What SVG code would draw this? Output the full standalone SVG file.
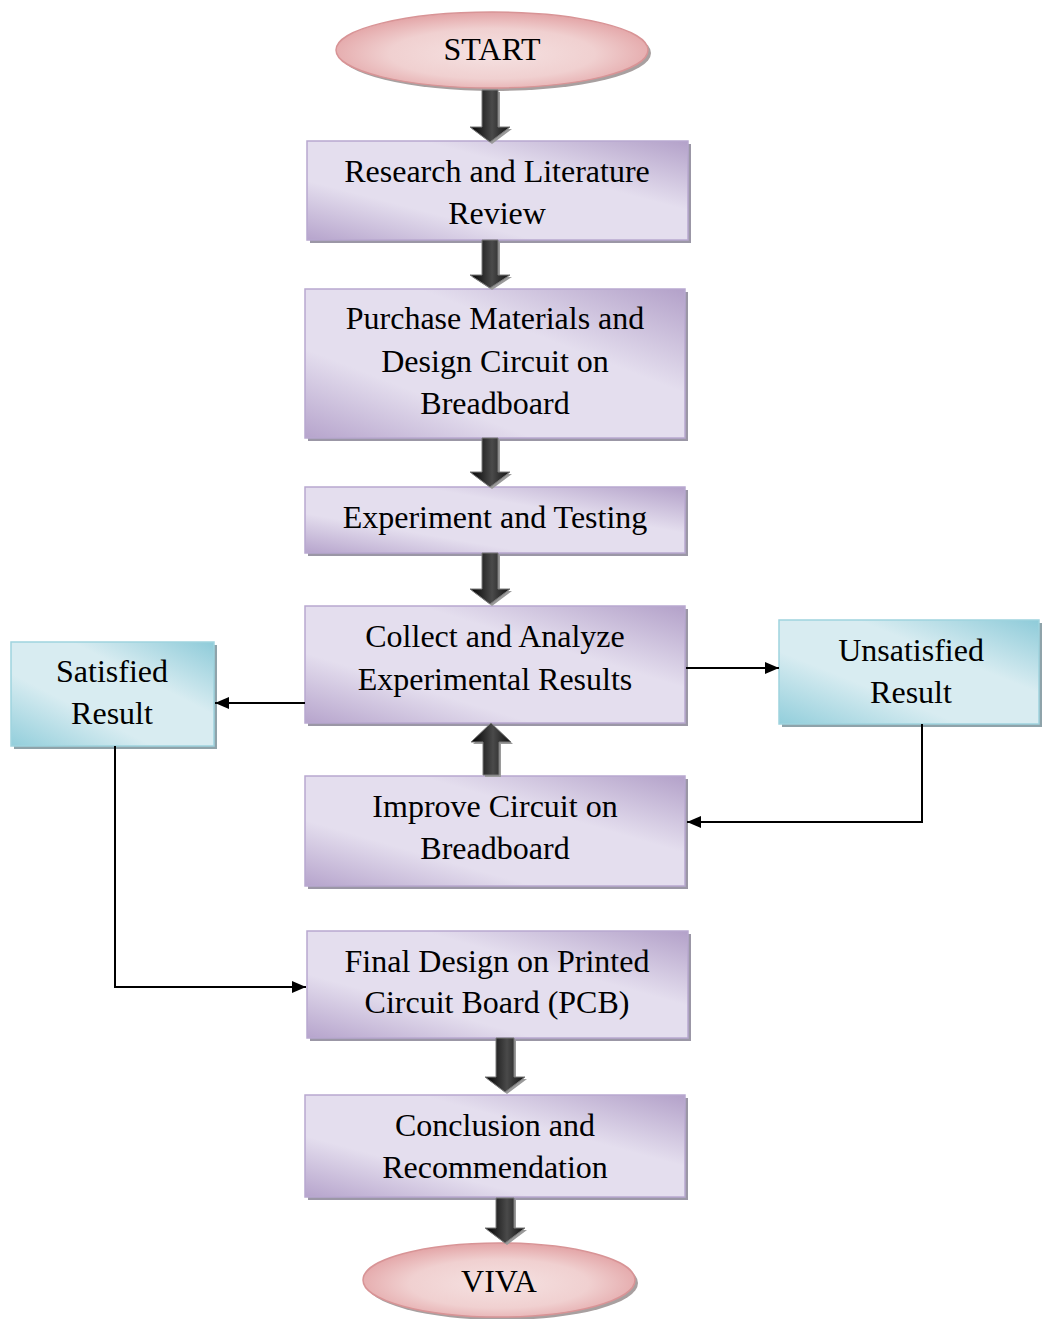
<svg xmlns="http://www.w3.org/2000/svg" width="1042" height="1319" viewBox="0 0 1042 1319">
<defs>
<linearGradient id="gPurple" x1="0" y1="1" x2="1" y2="0">
<stop offset="0" stop-color="#b6a4cc"/>
<stop offset="0.3" stop-color="#e4deee"/>
<stop offset="0.65" stop-color="#e4deee"/>
<stop offset="1" stop-color="#b3a1c9"/>
</linearGradient>
<linearGradient id="gBlue" x1="0" y1="1" x2="1" y2="0">
<stop offset="0" stop-color="#92cedb"/>
<stop offset="0.35" stop-color="#d8ecf1"/>
<stop offset="0.65" stop-color="#d8ecf1"/>
<stop offset="1" stop-color="#8ecbd9"/>
</linearGradient>
<radialGradient id="gPink" cx="0.5" cy="0.55" r="0.55">
<stop offset="0" stop-color="#f5e2e2"/>
<stop offset="0.6" stop-color="#f0d0d0"/>
<stop offset="1" stop-color="#e3a4a6"/>
</radialGradient>
<linearGradient id="gArrow" x1="0" y1="0" x2="1" y2="0">
<stop offset="0" stop-color="#000"/>
<stop offset="0.55" stop-color="#4a4a4a"/>
<stop offset="1" stop-color="#111"/>
</linearGradient>
<marker id="ah" viewBox="0 0 14 12" refX="14" refY="6" markerWidth="14" markerHeight="12" markerUnits="userSpaceOnUse" orient="auto">
<path d="M0,0 L14,6 L0,12 Z" fill="#000"/>
</marker>
<style>
.box{fill:url(#gPurple);stroke:#b8a8cf;stroke-width:1.5}
.bbox{fill:url(#gBlue);stroke:#9fd3de;stroke-width:1.5}
.sh{fill:#9b97a6}
.bsh{fill:#8fa3aa}
.ell{fill:url(#gPink);stroke:#d89496;stroke-width:1.5}
.esh{fill:#a8a0a0}
.t{font-family:"Liberation Serif","Times New Roman",serif;font-size:32px;fill:#000;text-anchor:middle}
.blk{fill:url(#gArrow);stroke:#7a7a7a;stroke-width:1}
.blksh{fill:#9a9a9a}
.ln{fill:none;stroke:#000;stroke-width:2;marker-end:url(#ah)}
</style>
</defs>
<rect width="1042" height="1319" fill="#fff"/>

<g id="start">
<ellipse class="esh" cx="495" cy="53" rx="156" ry="38"/>
<ellipse class="ell" cx="492" cy="50" rx="156" ry="38"/>
<text class="t" x="492" y="60">START</text>
</g>

<g id="research">
<rect class="sh" x="310" y="144" width="381" height="99"/>
<rect class="box" x="307" y="141" width="381" height="99"/>
<text class="t" x="497" y="182">Research and Literature</text>
<text class="t" x="497" y="224">Review</text>
</g>

<g id="purchase">
<rect class="sh" x="308" y="292" width="380" height="149"/>
<rect class="box" x="305" y="289" width="380" height="149"/>
<text class="t" x="495" y="329">Purchase Materials and</text>
<text class="t" x="495" y="372">Design Circuit on</text>
<text class="t" x="495" y="414">Breadboard</text>
</g>

<g id="experiment">
<rect class="sh" x="308" y="490" width="380" height="66"/>
<rect class="box" x="305" y="487" width="380" height="66"/>
<text class="t" x="495" y="528">Experiment and Testing</text>
</g>

<g id="collect">
<rect class="sh" x="308" y="609" width="380" height="117"/>
<rect class="box" x="305" y="606" width="380" height="117"/>
<text class="t" x="495" y="647">Collect and Analyze</text>
<text class="t" x="495" y="690">Experimental Results</text>
</g>

<g id="satisfied">
<rect class="bsh" x="14" y="645" width="203" height="104"/>
<rect class="bbox" x="11" y="642" width="203" height="104"/>
<text class="t" x="112" y="682">Satisfied</text>
<text class="t" x="112" y="724">Result</text>
</g>

<g id="unsatisfied">
<rect class="bsh" x="782" y="623" width="260" height="104"/>
<rect class="bbox" x="779" y="620" width="260" height="104"/>
<text class="t" x="911" y="661">Unsatisfied</text>
<text class="t" x="911" y="703">Result</text>
</g>

<g id="improve">
<rect class="sh" x="308" y="779" width="380" height="110"/>
<rect class="box" x="305" y="776" width="380" height="110"/>
<text class="t" x="495" y="817">Improve Circuit on</text>
<text class="t" x="495" y="859">Breadboard</text>
</g>

<g id="final">
<rect class="sh" x="310" y="934" width="381" height="107"/>
<rect class="box" x="307" y="931" width="381" height="107"/>
<text class="t" x="497" y="972">Final Design on Printed</text>
<text class="t" x="497" y="1013">Circuit Board (PCB)</text>
</g>

<g id="conclusion">
<rect class="sh" x="308" y="1098" width="380" height="102"/>
<rect class="box" x="305" y="1095" width="380" height="102"/>
<text class="t" x="495" y="1136">Conclusion and</text>
<text class="t" x="495" y="1178">Recommendation</text>
</g>

<g id="viva">
<ellipse class="esh" cx="502" cy="1283" rx="136" ry="37"/>
<ellipse class="ell" cx="499" cy="1280" rx="136" ry="37"/>
<text class="t" x="499" y="1292">VIVA</text>
</g>

<g id="connectors">
<path class="blksh" d="M484,92 H500 V129 H512 L492,144 L472,129 H484 Z"/>
<path class="blk" d="M482,90 H498 V127 H510 L490,142 L470,127 H482 Z"/>
<path class="blksh" d="M484,242 H500 V277 H512 L492,290 L472,277 H484 Z"/>
<path class="blk" d="M482,240 H498 V275 H510 L490,288 L470,275 H482 Z"/>
<path class="blksh" d="M484,440 H500 V474 H512 L492,489 L472,474 H484 Z"/>
<path class="blk" d="M482,438 H498 V472 H510 L490,487 L470,472 H482 Z"/>
<path class="blksh" d="M484,555 H500 V591 H512 L492,606 L472,591 H484 Z"/>
<path class="blk" d="M482,553 H498 V589 H510 L490,604 L470,589 H482 Z"/>
<path class="blksh" d="M485,777 H501 V744 H513 L493,725 L473,744 H485 Z"/>
<path class="blk" d="M483,775 H499 V742 H511 L491,723 L471,742 H483 Z"/>
<path class="blksh" d="M498,1040 H516 V1079 H527 L507,1094 L487,1079 H498 Z"/>
<path class="blk" d="M496,1038 H514 V1077 H525 L505,1092 L485,1077 H496 Z"/>
<path class="blksh" d="M498,1200 H516 V1230 H527 L507,1245 L487,1230 H498 Z"/>
<path class="blk" d="M496,1198 H514 V1228 H525 L505,1243 L485,1228 H496 Z"/>
<path class="ln" d="M305,703 H215"/>
<path class="ln" d="M686,668 H779"/>
<path class="ln" d="M922,724 V822 H687"/>
<path class="ln" d="M115,746 V987 H306"/>
</g>
</svg>
